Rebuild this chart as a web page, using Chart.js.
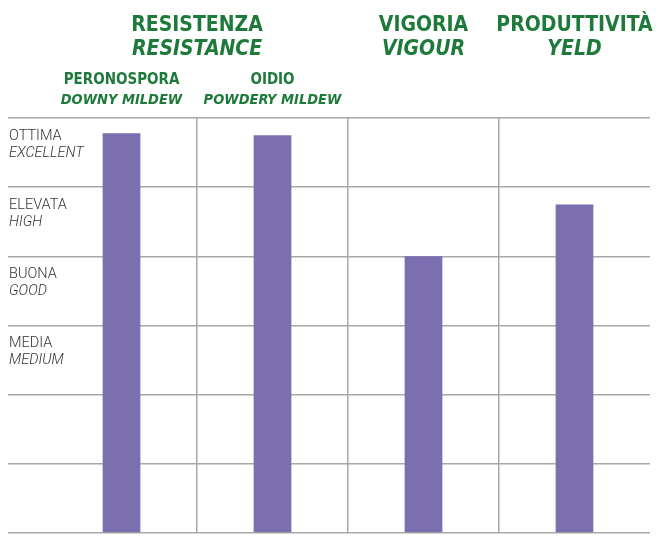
<!DOCTYPE html>
<html>
<head>
<meta charset="utf-8">
<script src="https://cdn.jsdelivr.net/npm/chart.js@4"></script>
<style>
  html, body { margin: 0; padding: 0; background: #fff; }
  #wrap { width: 663px; height: 548px; position: relative; }
</style>
</head>
<body>
<div id="wrap"><canvas id="grafico"></canvas></div>
<script>
const categorie = ['Peronospora', 'Oidio', 'Vigoria', 'Produttività'];
const valori = [5.78, 5.75, 4, 4.75];

// livelli della scala (valore del bordo superiore della fascia)
const livelliValore = [6, 5, 4, 3];
const livelliIt = ['OTTIMA', 'ELEVATA', 'BUONA', 'MEDIA'];
const livelliEn = ['EXCELLENT', 'HIGH', 'GOOD', 'MEDIUM'];

// intestazioni: indici delle colonne coperte
const gruppiIt = ['RESISTENZA', 'VIGORIA', 'PRODUTTIVITÀ'];
const gruppiEn = ['RESISTANCE', 'VIGOUR', 'YELD'];
const gruppiColonne = [[0, 1], [2], [3]];
const sottoIt = ['PERONOSPORA', 'OIDIO'];
const sottoEn = ['DOWNY MILDEW', 'POWDERY MILDEW'];

const verde = '#1d7a3a';
const grigio = '#a8a8a8';
const viola = '#7b6fb0';
const fontTitoli = '"Liberation Sans Narrow", "DejaVu Sans Condensed", sans-serif';

const etichette = {
  id: 'etichette',
  afterDraw(chart) {
    const ctx = chart.ctx;
    const x = chart.scales.x;
    const y = chart.scales.y;
    ctx.save();
    ctx.textBaseline = 'middle';

    // livelli a sinistra
    ctx.textAlign = 'left';
    ctx.fillStyle = '#333';
    livelliValore.forEach((v, i) => {
      const top = y.getPixelForValue(v);
      ctx.font = '300 14.5px Roboto, sans-serif';
      ctx.fillText(livelliIt[i], 9, top + 18);
      ctx.font = 'italic 300 14.5px Roboto, sans-serif';
      ctx.fillText(livelliEn[i], 9, top + 35);
    });

    // intestazioni gruppi
    ctx.textAlign = 'center';
    ctx.fillStyle = verde;
    gruppiIt.forEach((t, i) => {
      const cols = gruppiColonne[i];
      const cx = cols.reduce((s, c) => s + x.getPixelForValue(c), 0) / cols.length;
      ctx.font = 'bold 21px ' + fontTitoli;
      ctx.fillText(t, cx, 26);
      ctx.font = 'italic bold 21px ' + fontTitoli;
      ctx.fillText(gruppiEn[i], cx, 50);
    });

    // sottotitoli resistenza
    sottoIt.forEach((t, i) => {
      const cx = x.getPixelForValue(i);
      ctx.font = 'bold 15px ' + fontTitoli;
      ctx.fillText(t, cx, 80);
      ctx.font = 'italic bold 14.5px ' + fontTitoli;
      ctx.fillText(sottoEn[i], cx, 100);
    });
    ctx.restore();
  }
};

new Chart(document.getElementById('grafico'), {
  type: 'bar',
  data: {
    labels: categorie,
    datasets: [{
      data: valori,
      backgroundColor: viola,
      barPercentage: 0.25,
      categoryPercentage: 1
    }]
  },
  options: {
    responsive: true,
    maintainAspectRatio: false,
    animation: false,
    layout: { padding: { top: 118, left: 8, right: 13, bottom: 15 } },
    plugins: { legend: { display: false }, tooltip: { enabled: false } },
    scales: {
      x: {
        ticks: { display: false },
        grid: {
          offset: true,
          drawTicks: false,
          lineWidth: 1.5,
          color: c => (c.index > 0 ? grigio : 'rgba(0,0,0,0)')
        },
        border: { display: false }
      },
      y: {
        min: 0,
        max: 6,
        ticks: { display: false, stepSize: 1 },
        grid: { color: grigio, lineWidth: 1.5, tickLength: 38, tickColor: grigio },
        border: { display: false }
      }
    }
  },
  plugins: [etichette]
});
</script>
</body>
</html>
